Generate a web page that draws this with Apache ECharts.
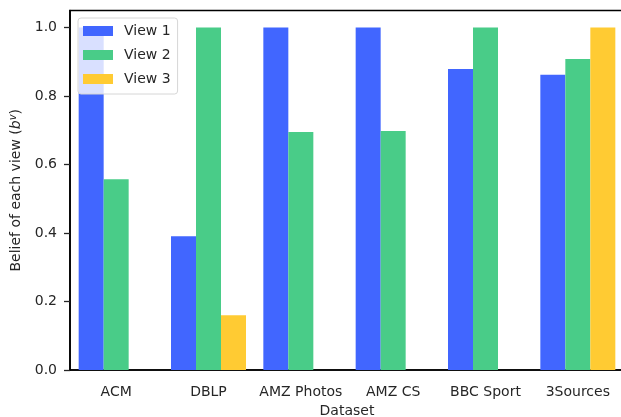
<!DOCTYPE html>
<html>
<head>
<meta charset="utf-8">
<script src="https://cdn.jsdelivr.net/npm/echarts@6/dist/echarts.min.js"></script>
<style>html,body{margin:0;padding:0;background:#fff}#c{width:621px;height:417px}</style>
</head>
<body>
<div id="c"></div>
<script>
const categories = ['ACM', 'DBLP', 'AMZ Photos', 'AMZ CS', 'BBC Sport', '3Sources'];
const view1 = [1.0, 0.391, 1.0, 1.0, 0.879, 0.862];
const view2 = [0.557, 1.0, 0.695, 0.698, 1.0, 0.908];
const view3 = [0, 0.160, 0, 0, 0, 1.0];
const yTicks = [0, 0.2, 0.4, 0.6, 0.8, 1.0];
const seriesNames = ['View 1', 'View 2', 'View 3'];
const colors = ['#4166ff', '#49cc88', '#ffcb33'];

const FONT = 'DejaVu Sans';
const FS = 14;
const TXT = '#262626';
const chart = echarts.init(document.getElementById('c'), null, {renderer: 'canvas'});
const mk = (name, data, color) => ({
  name, type: 'bar', data, barWidth: 25, barGap: '0%',
  itemStyle: {color}, emphasis: {disabled: true}, animation: false
});
chart.setOption({
  animation: false,
  grid: {left: 70, top: 10.5, width: 554, bottom: 47, show: true, borderColor: '#000', borderWidth: 1.6,
    backgroundColor: 'transparent', outerBoundsMode: 'none', containLabel: false},
  legend: {
    orient: 'vertical', left: 78, top: 18, itemWidth: 30, itemHeight: 10, itemGap: 10,
    icon: 'rect', padding: [6, 7, 8, 5],
    backgroundColor: 'rgba(255,255,255,0.8)', borderColor: '#d6d6d6', borderWidth: 1, borderRadius: 3,
    textStyle: {fontFamily: FONT, fontSize: FS, color: TXT, padding: [0, 0, 0, 6]},
    data: seriesNames, z: 10
  },
  xAxis: {
    type: 'category', data: categories,
    axisLine: {lineStyle: {color: '#000', width: 1.6}},
    axisTick: {alignWithLabel: true, length: 6, lineStyle: {color: TXT, width: 1.3}},
    axisLabel: {fontFamily: FONT, fontSize: FS, color: TXT, margin: 15, interval: 0},
    name: 'Dataset', nameLocation: 'middle', nameGap: 34,
    nameTextStyle: {fontFamily: FONT, fontSize: FS, color: TXT}
  },
  yAxis: {
    type: 'value', min: 0, max: 1.05,
    splitLine: {show: false},
    axisLine: {show: true, lineStyle: {color: '#000', width: 1.6}},
    axisTick: {show: true, length: 6, customValues: yTicks, lineStyle: {color: TXT, width: 1.3}},
    axisLabel: {fontFamily: FONT, fontSize: FS, color: TXT, margin: 13, customValues: yTicks,
      formatter: v => v.toFixed(1)},
    name: 'Belief of each view ({i|b}{s|v})', nameLocation: 'middle', nameGap: 44,
    nameTextStyle: {fontFamily: FONT, fontSize: FS, color: TXT,
      rich: {
        i: {fontFamily: FONT, fontSize: FS, fontStyle: 'italic', color: TXT},
        s: {fontFamily: FONT, fontSize: 10, fontStyle: 'italic', color: TXT, verticalAlign: 'top', padding: [0, 0, 7, 0]}
      }}
  },
  series: [mk(seriesNames[0], view1, colors[0]), mk(seriesNames[1], view2, colors[1]), mk(seriesNames[2], view3, colors[2])]
});
</script>
</body>
</html>
